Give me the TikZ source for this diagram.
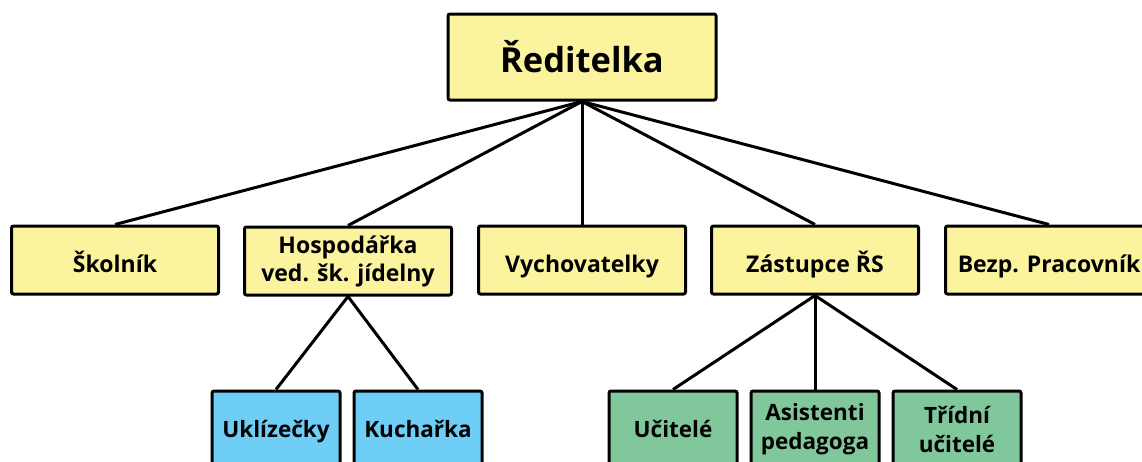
\documentclass[tikz,border=0pt]{standalone}
\usepackage{fontspec}
\setmainfont{Open Sans}[UprightFont=* Bold]
\definecolor{ylw}{HTML}{FCF39E}
\definecolor{blu}{HTML}{6FCEF6}
\definecolor{grn}{HTML}{80C89C}
\begin{document}
\begin{tikzpicture}[x=1pt,y=-1pt,
  box/.style={draw=black,line width=3pt,rounded corners=2pt,align=center,inner sep=0pt},
  top/.style={box,fill=ylw,minimum width=268pt,minimum height=86pt,font=\fontsize{34.5}{40}\selectfont},
  mid/.style={box,fill=ylw,minimum width=207pt,minimum height=68pt,font=\fontsize{23}{28}\selectfont},
  one/.style={text height=24pt,text depth=0pt},
  onelow/.style={text height=22pt,text depth=6pt},
  lowb/.style={box,fill=blu,minimum width=128pt,minimum height=76pt,font=\fontsize{22.5}{29}\selectfont},
  lowg/.style={box,fill=grn,minimum width=128pt,minimum height=76pt,font=\fontsize{22.5}{29}\selectfont},
  conn/.style={line width=3pt}]
\useasboundingbox (0,0) rectangle (1142,461);
\node[top] (r) at (582,57) {Ředitelka};
\node[mid,one] (s) at (115,260) {Školník};
\node[mid] (h) at (348,261) {Hospodářka\\ved. šk. jídelny};
\node[mid,one] (v) at (582,260) {Vychovatelky};
\node[mid,one] (z) at (815,260) {Zástupce ŘS};
\node[mid,one] (b) at (1049,260) {Bezp. Pracovník};
\node[lowb,onelow] (u) at (276,429) {Uklízečky};
\node[lowb,onelow] (k) at (418,429) {Kuchařka};
\node[lowg,onelow] (uc) at (673,429) {Učitelé};
\node[lowg] (a) at (815,429) {Asistenti\\pedagoga};
\node[lowg] (t) at (957,429) {Třídní\\učitelé};
\foreach \n in {s,h,v,z,b} \draw[conn] (r.south) -- (\n.north);
\foreach \n in {u,k} \draw[conn] (h.south) -- (\n.north);
\foreach \n in {uc,a,t} \draw[conn] (z.south) -- (\n.north);
\end{tikzpicture}
\end{document}
